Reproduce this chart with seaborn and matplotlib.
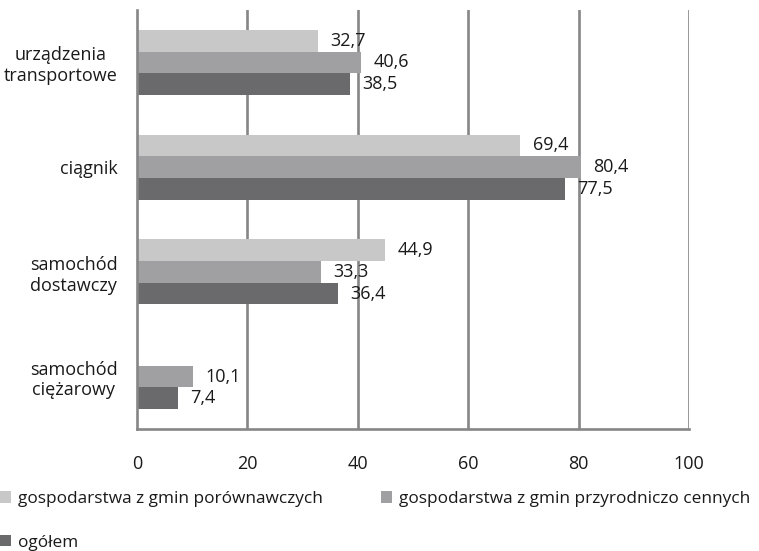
import numpy as np
import pandas as pd
import matplotlib
matplotlib.use("Agg")
import matplotlib.pyplot as plt
import seaborn as sns

categories = ["urządzenia\ntransportowe", "ciągnik", "samochód\ndostawczy", "samochód\nciężarowy"]
series_names = ["gospodarstwa z gmin porównawczych",
                "gospodarstwa z gmin przyrodniczo cennych",
                "ogółem"]
vals_porown = [32.7, 69.4, 44.9, np.nan]
vals_przyr = [40.6, 80.4, 33.3, 10.1]
vals_ogolem = [38.5, 77.5, 36.4, 7.4]
x_ticks = [0, 20, 40, 60, 80, 100]
colors = ["#c8c8c9", "#a0a0a2", "#6a6a6d"]

rows = []
for name, vals in zip(series_names, [vals_porown, vals_przyr, vals_ogolem]):
    for c, v in zip(categories, vals):
        rows.append({"cat": c, "series": name, "value": v})
df = pd.DataFrame(rows)

sns.set_theme(style="white")
plt.rcParams["font.family"] = ["Open Sans", "DejaVu Sans"]
FS = 13
LFS = 12.4

fig = plt.figure(figsize=(7.59, 5.51), dpi=100)
ax = fig.add_axes([137/759, 1 - 429/551, (689-137)/759, (429-10)/551])

sns.barplot(data=df, y="cat", x="value", hue="series", order=categories,
            hue_order=series_names, palette=colors, orient="h", ax=ax,
            width=0.62, saturation=1, legend=True, zorder=3, linewidth=0)

for cont in ax.containers:
    labels = []
    for v in cont.datavalues:
        if v is None or not np.isfinite(v) or v == 0:
            labels.append("")
        else:
            labels.append(f"{v:.1f}".replace(".", ","))
    ax.bar_label(cont, labels=labels, padding=9, fontsize=FS, color="#1a1a1a", zorder=5)

ax.set_xlim(0, 100)
ax.set_xticks(x_ticks)
ax.set_xticklabels([str(t) for t in x_ticks], fontsize=FS, color="#1a1a1a")
ax.set_xlabel("")
ax.set_ylabel("")
ax.tick_params(axis="x", length=0, pad=19)
ax.tick_params(axis="y", length=0, pad=14, labelsize=FS, labelcolor="#1a1a1a")
for lbl in ax.get_yticklabels():
    lbl.set_multialignment("center")

for t in x_ticks[1:]:
    ax.axvline(t, color="#868686", lw=1.9, zorder=1)

for s in ["top", "right"]:
    ax.spines[s].set_visible(False)
for s in ["left", "bottom"]:
    ax.spines[s].set_color("#868686")
    ax.spines[s].set_linewidth(1.9)
    ax.spines[s].set_zorder(4)

handles, labs = ax.get_legend_handles_labels()
ax.get_legend().remove()
order = [0, 2, 1]
fig.legend([handles[i] for i in order], [labs[i] for i in order],
           loc="upper left", bbox_to_anchor=(0.0, 1 - 491/551),
           ncol=2, frameon=False, fontsize=LFS, handlelength=0.63,
           handleheight=0.63, handletextpad=0.4, columnspacing=3.4,
           labelspacing=1.6, borderaxespad=0, borderpad=0, labelcolor="#1a1a1a")

fig.savefig("out.png", dpi=100)
